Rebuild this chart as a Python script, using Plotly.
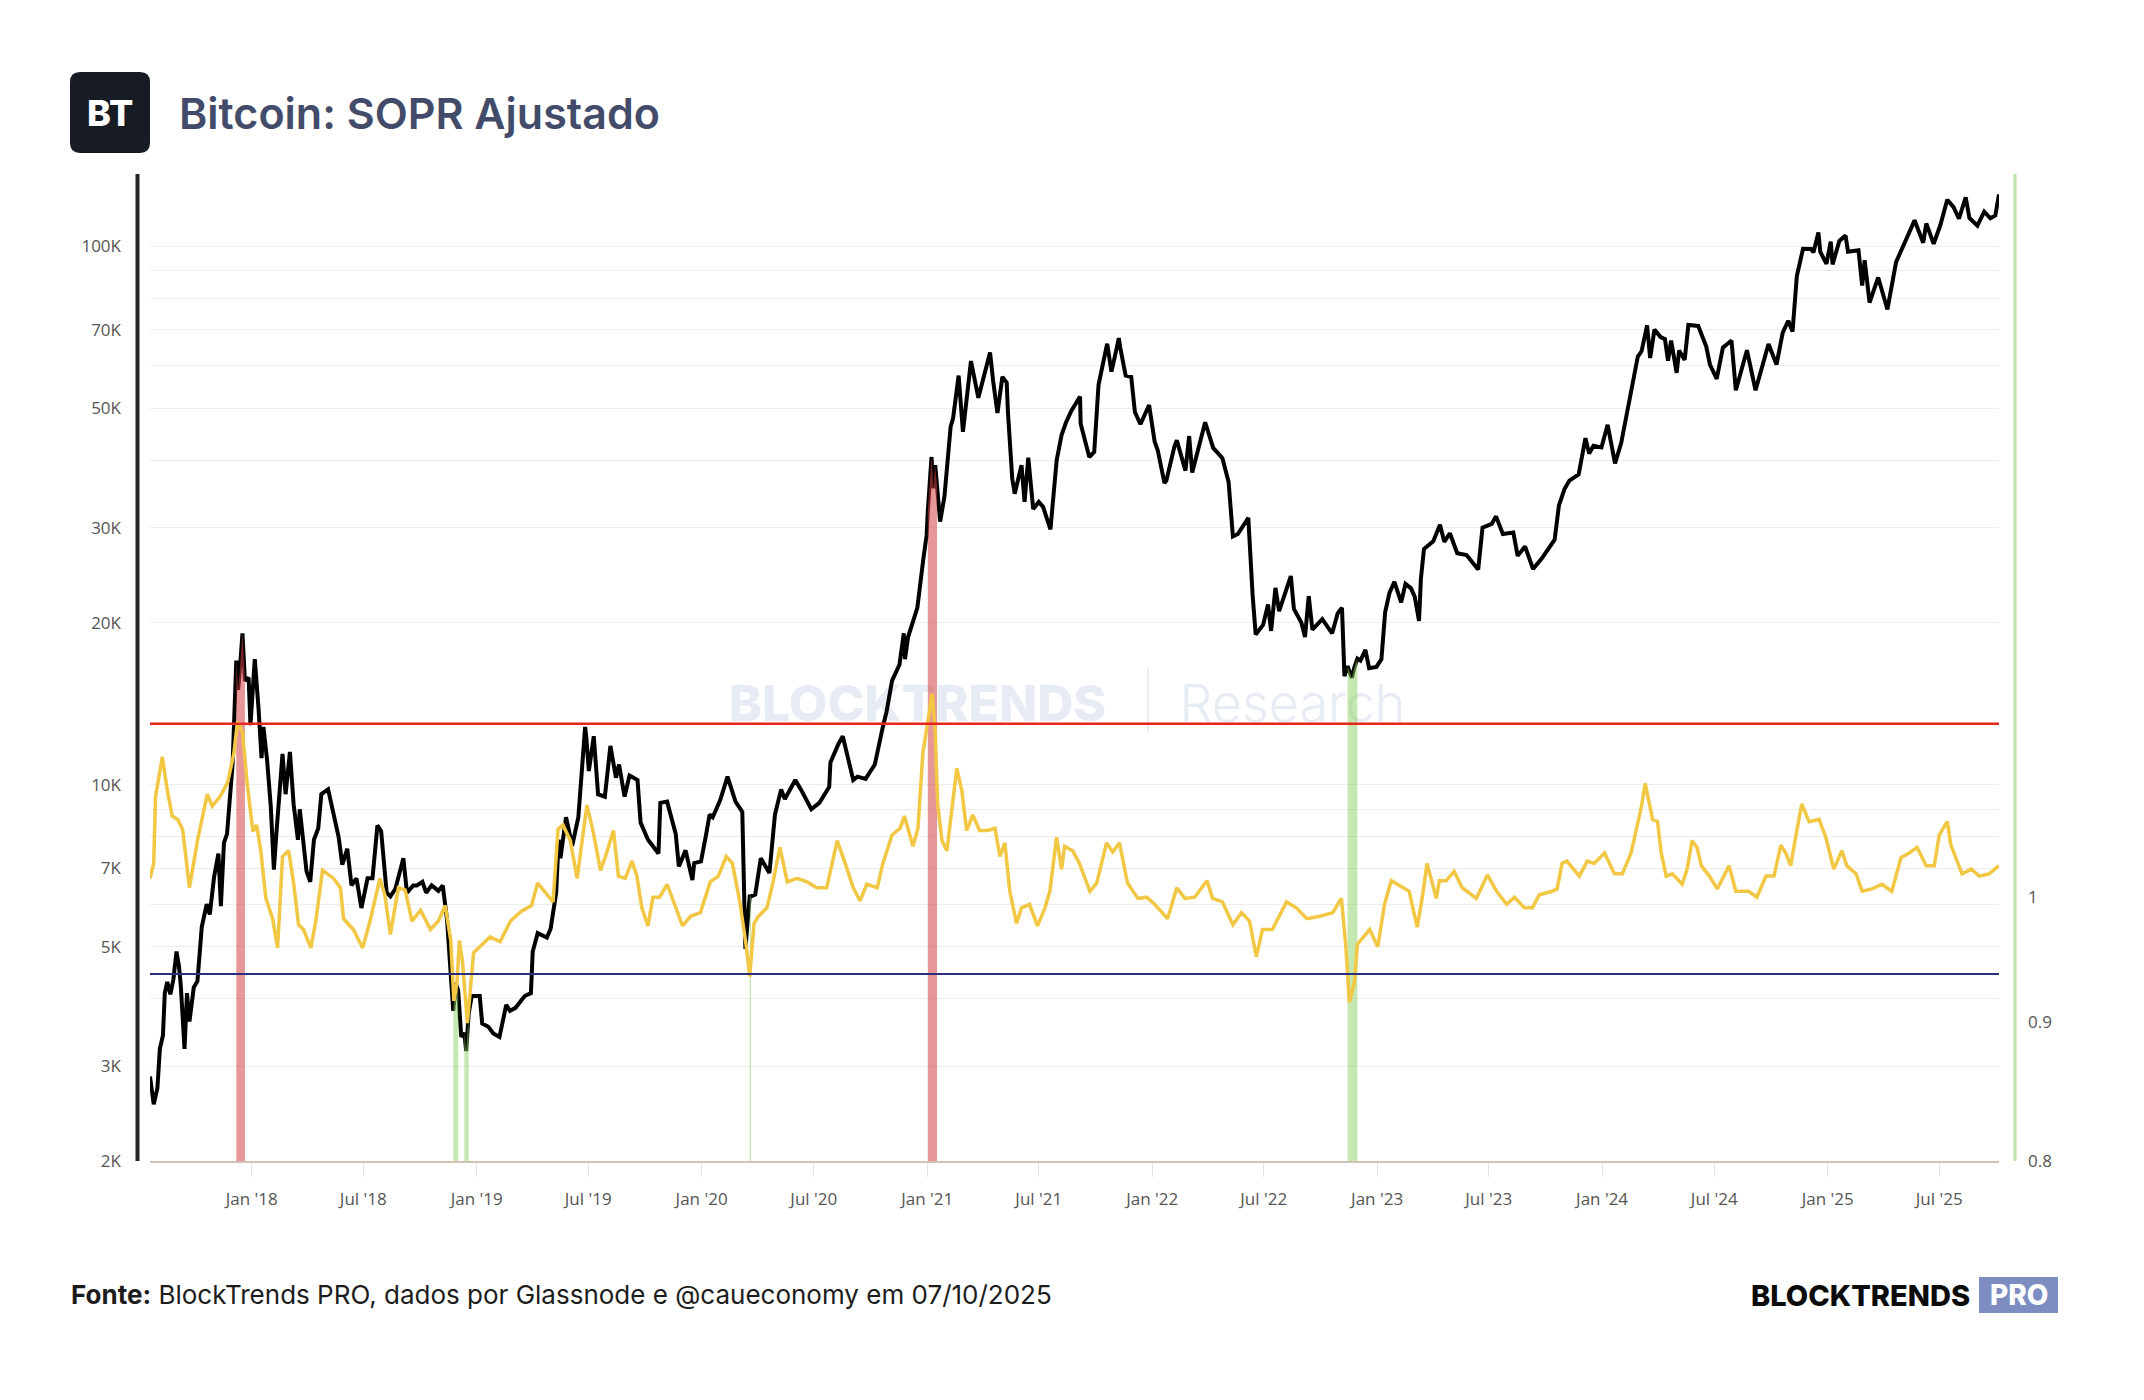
import math
import plotly.graph_objects as go

# ---------------- DATA ----------------
price_dates = [
"2017-07-20","2017-07-26","2017-08-01","2017-08-05","2017-08-10","2017-08-13","2017-08-17","2017-08-22","2017-08-27",
"2017-09-01","2017-09-05","2017-09-08","2017-09-14","2017-09-18","2017-09-22","2017-09-29","2017-10-05","2017-10-12",
"2017-10-20","2017-10-25","2017-11-01","2017-11-08","2017-11-12","2017-11-17","2017-11-22","2017-11-28","2017-12-01",
"2017-12-07","2017-12-10","2017-12-13","2017-12-17","2017-12-21","2017-12-27","2017-12-30",
"2018-01-06","2018-01-12","2018-01-17","2018-01-20","2018-01-26","2018-02-01","2018-02-06","2018-02-10","2018-02-20",
"2018-02-25","2018-03-04","2018-03-10","2018-03-17","2018-03-20","2018-03-31","2018-04-06","2018-04-12","2018-04-19",
"2018-04-24","2018-05-05","2018-05-14","2018-05-22","2018-05-28","2018-06-05","2018-06-12","2018-06-20","2018-06-28",
"2018-07-08","2018-07-16","2018-07-24","2018-07-30","2018-08-08","2018-08-14","2018-08-22","2018-08-31","2018-09-04",
"2018-09-10","2018-09-20","2018-09-26","2018-10-05","2018-10-11","2018-10-20","2018-10-31","2018-11-07","2018-11-14",
"2018-11-20","2018-11-24","2018-11-28","2018-12-02","2018-12-07","2018-12-12","2018-12-15","2018-12-19","2018-12-24",
"2019-01-06","2019-01-10","2019-01-20","2019-01-28","2019-02-07","2019-02-18","2019-02-24","2019-03-05","2019-03-20",
"2019-03-30","2019-04-02","2019-04-10","2019-04-25","2019-05-01","2019-05-10","2019-05-14","2019-05-17","2019-05-26",
"2019-06-05","2019-06-15","2019-06-26","2019-06-28","2019-07-02","2019-07-10","2019-07-17","2019-07-28","2019-08-06",
"2019-08-15","2019-08-20","2019-08-29","2019-09-06","2019-09-19","2019-09-24","2019-10-06","2019-10-23","2019-10-26",
"2019-11-06","2019-11-20","2019-11-25","2019-12-06","2019-12-17","2019-12-20","2019-12-31",
"2020-01-08","2020-01-14","2020-01-19","2020-01-31","2020-02-12","2020-02-25","2020-03-07","2020-03-12","2020-03-19",
"2020-03-21","2020-03-28","2020-04-06","2020-04-20","2020-04-29","2020-05-09","2020-05-15","2020-06-01","2020-06-10",
"2020-06-27","2020-07-10","2020-07-26","2020-07-28","2020-08-10","2020-08-17","2020-09-03","2020-09-10","2020-09-23",
"2020-10-08","2020-10-21","2020-10-27","2020-11-05","2020-11-17","2020-11-24","2020-11-26","2020-12-01","2020-12-16",
"2020-12-26","2020-12-31",
"2021-01-02","2021-01-08","2021-01-11","2021-01-14","2021-01-17","2021-01-22","2021-01-29","2021-02-08","2021-02-12",
"2021-02-21","2021-02-28","2021-03-13","2021-03-25","2021-04-03","2021-04-13","2021-04-18","2021-04-25","2021-05-03",
"2021-05-10","2021-05-12","2021-05-19","2021-05-23","2021-06-03","2021-06-08","2021-06-14","2021-06-22","2021-07-01",
"2021-07-08","2021-07-20","2021-07-30","2021-08-07","2021-08-14","2021-08-23","2021-09-06","2021-09-07","2021-09-21",
"2021-09-29","2021-10-06","2021-10-20","2021-10-27","2021-11-08","2021-11-10","2021-11-19","2021-11-28","2021-12-04",
"2021-12-13","2021-12-27",
"2022-01-05","2022-01-10","2022-01-21","2022-01-24","2022-02-06","2022-02-10","2022-02-24","2022-03-02","2022-03-07",
"2022-03-28","2022-04-10","2022-04-25","2022-05-05","2022-05-12","2022-05-20","2022-06-06","2022-06-13","2022-06-18",
"2022-06-30","2022-07-08","2022-07-13","2022-07-20","2022-07-26","2022-08-14","2022-08-19","2022-08-31","2022-09-06",
"2022-09-12","2022-09-18","2022-10-04","2022-10-20","2022-10-29","2022-11-05","2022-11-09","2022-11-14","2022-11-21",
"2022-11-25","2022-11-30","2022-12-05","2022-12-13","2022-12-19","2022-12-31",
"2023-01-08","2023-01-14","2023-01-21","2023-01-29","2023-02-09","2023-02-16","2023-02-25","2023-03-03","2023-03-10",
"2023-03-13","2023-03-18","2023-03-26","2023-04-02","2023-04-13","2023-04-20","2023-04-29","2023-05-11","2023-05-26",
"2023-06-14","2023-06-21","2023-07-06","2023-07-13","2023-07-24","2023-08-10","2023-08-17","2023-08-29","2023-09-11",
"2023-09-25","2023-10-16","2023-10-23","2023-11-01","2023-11-09","2023-11-24","2023-12-05","2023-12-11","2023-12-18",
"2023-12-31",
"2024-01-10","2024-01-22","2024-02-01","2024-02-12","2024-02-28","2024-03-05","2024-03-14","2024-03-19","2024-03-26",
"2024-04-05","2024-04-12","2024-04-17","2024-04-22","2024-05-01","2024-05-05","2024-05-14","2024-05-20","2024-06-05",
"2024-06-18","2024-06-24","2024-07-05","2024-07-15","2024-07-29","2024-08-05","2024-08-23","2024-09-06","2024-09-15",
"2024-09-27","2024-10-10","2024-10-20","2024-10-29","2024-11-05","2024-11-12","2024-11-22","2024-12-05","2024-12-09",
"2024-12-17","2024-12-20","2024-12-30",
"2025-01-06","2025-01-09","2025-01-20","2025-01-30","2025-02-03","2025-02-20","2025-02-26","2025-03-02","2025-03-10",
"2025-03-24","2025-04-08","2025-04-22","2025-05-08","2025-05-22","2025-06-05","2025-06-10","2025-06-22","2025-07-03",
"2025-07-14","2025-07-24","2025-08-02","2025-08-13","2025-08-19","2025-09-01","2025-09-12","2025-09-22","2025-09-30",
"2025-10-06",
]
price_values = [
2870,2550,2730,3230,3420,4100,4300,4080,4350,
4900,4600,4230,3230,4100,3630,4200,4320,5440,
6000,5740,6740,7450,5950,7800,8100,9900,10900,
17000,15000,16500,19100,15600,15800,12900,
17100,13900,11200,12800,11100,9100,6950,8100,11400,
9600,11500,9200,7900,9000,6900,6600,7900,8300,
9600,9800,8700,8000,7100,7600,6500,6700,5900,
6700,6700,8400,8200,6300,6200,6400,7000,7300,
6300,6500,6500,6600,6300,6500,6350,6500,5600,
4450,3800,4280,4150,3400,3460,3200,3750,4050,
4050,3600,3550,3450,3400,3900,3800,3850,4050,
4100,4900,5300,5200,5400,6300,7900,7300,8700,
7700,8700,12800,12200,10600,12300,9600,9500,11800,
10300,10900,9500,10400,10200,8500,7900,7450,9250,
9300,8100,7050,7550,6650,7150,7200,
8050,8800,8700,9350,10350,9300,8900,4950,6200,
6200,6250,7300,6850,8800,9800,9400,10200,9800,
9000,9250,9900,11000,11900,12300,10200,10350,10250,
10900,12800,13650,15600,16700,19100,17100,18800,21300,
26400,29000,
32200,40600,35500,39200,35800,30800,34300,46200,47900,
57500,45200,61200,52300,57000,63500,56200,49000,57200,
55800,49200,37000,34700,39200,33500,40500,32500,33500,
32800,29800,40000,44600,47000,49500,52600,46800,40600,
41500,55300,65900,58500,67500,65000,57500,57200,49200,
46700,50700,
43400,41800,36300,36700,42400,43600,38300,44400,38000,
47100,42200,40400,36500,28900,29200,31300,22500,19000,
19800,21600,19300,23200,21000,24400,21200,20000,18800,
22400,19400,20300,19100,20800,21300,15900,16600,15800,
16500,17150,17000,17800,16450,16550,
17100,20900,22700,23800,21800,23600,23150,22350,20150,
24100,27400,27800,28300,30400,28250,29300,26900,26700,
25100,30000,30500,31500,29200,29400,26600,27700,25150,
26300,28500,33000,35400,36700,37700,44000,41200,42600,
42300,
46600,39500,43100,49900,62400,63800,71300,62000,70000,
67800,67200,61300,66800,58200,64000,61500,71400,71100,
65100,60300,56700,64800,66800,54000,64100,54000,59200,
65800,60300,69000,72700,69400,88000,98900,98800,97400,
106100,97700,92700,
102000,92500,102300,104700,97700,98300,84500,94200,78600,
87500,76300,93400,103000,111700,101500,110200,101000,109600,
122000,118300,112500,123300,112800,109200,115900,112700,114000,
124800,
]

sopr_dates = [
"2017-07-20","2017-07-26","2017-07-29","2017-08-09","2017-08-17","2017-08-25","2017-09-03","2017-09-11","2017-09-22",
"2017-10-05","2017-10-21","2017-10-29","2017-11-11","2017-11-23","2017-12-03","2017-12-09","2017-12-17","2017-12-25",
"2018-01-03","2018-01-09","2018-01-16","2018-01-24","2018-02-04","2018-02-12","2018-02-20","2018-03-02","2018-03-10",
"2018-03-18","2018-03-26","2018-04-07","2018-04-15","2018-04-26","2018-05-06","2018-05-14","2018-05-25","2018-05-30",
"2018-06-15","2018-06-30","2018-07-12","2018-07-28","2018-08-05","2018-08-14","2018-08-27","2018-09-07","2018-09-18",
"2018-10-02","2018-10-18","2018-10-31","2018-11-11","2018-11-16","2018-11-20","2018-11-25","2018-11-30","2018-12-04",
"2018-12-09","2018-12-17","2018-12-23","2018-12-27",
"2019-01-06","2019-01-23","2019-02-08","2019-02-25","2019-03-14","2019-03-31","2019-04-10","2019-04-25","2019-05-05",
"2019-05-13","2019-05-21","2019-06-02","2019-06-13","2019-06-29","2019-07-09","2019-07-21","2019-07-29","2019-08-11",
"2019-08-19","2019-08-30","2019-09-10","2019-09-18","2019-09-26","2019-10-06","2019-10-14","2019-10-25","2019-11-06",
"2019-11-16","2019-12-01","2019-12-14","2019-12-30",
"2020-01-15","2020-01-28","2020-02-10","2020-02-20","2020-03-03","2020-03-13","2020-03-19","2020-03-26","2020-04-02",
"2020-04-16","2020-04-26","2020-05-07","2020-05-19","2020-06-04","2020-06-20","2020-07-06","2020-07-22","2020-08-08",
"2020-08-21","2020-09-03","2020-09-14","2020-09-25","2020-10-12","2020-10-21","2020-11-05","2020-11-18","2020-11-25",
"2020-12-01","2020-12-09","2020-12-17","2020-12-25",
"2021-01-02","2021-01-09","2021-01-14","2021-01-18","2021-01-25","2021-02-02","2021-02-10","2021-02-18","2021-02-26",
"2021-03-06","2021-03-16","2021-03-27","2021-04-09","2021-04-21","2021-04-29","2021-05-07","2021-05-15","2021-05-26",
"2021-06-03","2021-06-16","2021-06-29","2021-07-11","2021-07-19","2021-07-30","2021-08-07","2021-08-12","2021-08-25",
"2021-09-05","2021-09-22","2021-10-03","2021-10-19","2021-10-29","2021-11-09","2021-11-22","2021-12-09","2021-12-23",
"2022-01-05","2022-01-26","2022-02-10","2022-02-23","2022-03-11","2022-03-31","2022-04-09","2022-04-25","2022-05-12",
"2022-05-26","2022-06-08","2022-06-19","2022-06-29","2022-07-15","2022-08-07","2022-08-23","2022-09-09","2022-09-30",
"2022-10-21","2022-11-04","2022-11-11","2022-11-17","2022-11-25","2022-11-30","2022-12-20",
"2023-01-02","2023-01-13","2023-01-24","2023-02-09","2023-02-22","2023-03-07","2023-03-15","2023-03-23","2023-04-07",
"2023-04-12","2023-04-23","2023-05-06","2023-05-19","2023-06-11","2023-06-29","2023-07-14","2023-07-30","2023-08-12",
"2023-08-28","2023-09-10","2023-09-21","2023-10-12","2023-10-20","2023-10-28","2023-11-05","2023-11-25","2023-12-08",
"2023-12-19",
"2024-01-05","2024-01-21","2024-02-03","2024-02-17","2024-02-25","2024-03-05","2024-03-11","2024-03-18","2024-03-23",
"2024-03-31","2024-04-06","2024-04-14","2024-04-24","2024-05-10","2024-05-18","2024-05-26","2024-06-03","2024-06-10",
"2024-06-23","2024-07-06","2024-07-25","2024-08-05","2024-08-26","2024-09-08","2024-09-23","2024-10-06","2024-10-17",
"2024-10-25","2024-11-02","2024-11-10","2024-11-20","2024-12-02","2024-12-18","2024-12-29",
"2025-01-11","2025-01-24","2025-02-01","2025-02-16","2025-02-26","2025-03-14","2025-03-30","2025-04-15","2025-04-30",
"2025-05-13","2025-05-26","2025-06-10","2025-06-23","2025-07-01","2025-07-14","2025-07-20","2025-08-07","2025-08-22",
"2025-09-04","2025-09-20","2025-10-06",
]
sopr_values = [
1.016,1.029,1.089,1.126,1.095,1.071,1.068,1.059,1.008,
1.049,1.091,1.080,1.089,1.102,1.129,1.160,1.150,1.099,
1.057,1.063,1.039,0.999,0.982,0.958,1.035,1.040,1.012,
0.977,0.973,0.958,0.980,1.023,1.019,1.016,1.008,0.982,
0.973,0.958,0.980,1.016,1.002,0.969,1.008,1.006,0.980,
0.989,0.973,0.980,0.993,0.977,0.964,0.916,0.930,0.964,
0.947,0.899,0.930,0.954,
0.959,0.967,0.963,0.980,0.988,0.993,1.012,1.002,0.996,
1.059,1.063,1.049,1.016,1.081,1.057,1.023,1.035,1.058,
1.018,1.016,1.031,1.018,0.991,0.976,1.000,1.000,1.011,
0.997,0.976,0.984,0.987,
1.013,1.018,1.035,1.029,0.996,0.961,0.935,0.978,0.984,
0.991,1.013,1.043,1.013,1.016,1.013,1.008,1.008,1.049,
1.029,1.008,0.997,1.011,1.008,1.029,1.054,1.060,1.071,
1.058,1.044,1.060,1.130,
1.160,1.188,1.149,1.082,1.049,1.040,1.077,1.115,1.095,
1.058,1.072,1.058,1.058,1.060,1.035,1.047,1.005,0.978,
0.991,0.994,0.976,0.991,1.005,1.052,1.024,1.044,1.040,
1.029,1.005,1.012,1.047,1.039,1.047,1.012,0.999,1.000,
0.994,0.982,1.008,0.999,1.000,1.014,0.999,0.996,0.977,
0.987,0.980,0.951,0.973,0.973,0.996,0.991,0.982,0.984,
0.987,0.999,0.961,0.915,0.930,0.961,0.973,
0.959,0.994,1.014,1.009,1.005,0.975,0.999,1.029,0.999,
1.014,1.014,1.022,1.008,0.999,1.019,1.005,0.994,1.000,
0.991,0.991,1.002,1.005,1.007,1.029,1.031,1.018,1.031,
1.029,
1.038,1.020,1.020,1.038,1.057,1.080,1.101,1.080,1.068,
1.066,1.038,1.018,1.020,1.011,1.024,1.049,1.043,1.027,
1.018,1.007,1.027,1.005,1.005,1.000,1.018,1.018,1.045,
1.038,1.027,1.052,1.082,1.066,1.068,1.052,
1.024,1.040,1.027,1.020,1.005,1.007,1.011,1.005,1.034,
1.038,1.043,1.027,1.027,1.054,1.066,1.045,1.020,1.024,
1.018,1.020,1.027,
]

sopr_upper = 1.158   # red threshold
sopr_lower = 0.937   # blue threshold

red_periods = [("2017-12-07", "2017-12-21"), ("2021-01-02", "2021-01-17")]
green_periods = [("2018-11-24", "2018-12-02"), ("2018-12-12", "2018-12-19"),
                 ("2020-03-19", "2020-03-21"), ("2022-11-14", "2022-11-30")]

price_axis_min = 2000
price_axis_max = 135600
price_tick_vals = [2000, 3000, 4000, 5000, 6000, 7000, 8000, 9000, 10000,
                   20000, 30000, 40000, 50000, 60000, 70000, 80000, 90000, 100000]
price_tick_text = ["2K", "3K", "", "5K", "", "7K", "", "", "10K",
                   "20K", "30K", "", "50K", "", "70K", "", "", "100K"]
sopr_axis_min = 0.8
sopr_axis_max = 1.842
sopr_tick_vals = [0.8, 0.9, 1.0]
sopr_tick_text = ["0.8", "0.9", "1"]
date_tick_vals = ["2018-01-01", "2018-07-01", "2019-01-01", "2019-07-01", "2020-01-01", "2020-07-01",
                  "2021-01-01", "2021-07-01", "2022-01-01", "2022-07-01", "2023-01-01", "2023-07-01",
                  "2024-01-01", "2024-07-01", "2025-01-01", "2025-07-01"]

# ---------------- LAYOUT HELPERS ----------------
W_FIG, H_FIG = 2144, 1400
L, R, T, B = 150, 1999, 175, 1161


def px(x):
    return (x - L) / (R - L)


def py(y):
    return (B - y) / (B - T)


fig = go.Figure()

# price line
fig.add_trace(go.Scatter(x=price_dates, y=price_values, mode="lines",
                         line=dict(color="#000000", width=4), yaxis="y",
                         hoverinfo="skip", showlegend=False))


def period_fill(start, end, color):
    xs, ys = [], []
    for d, v in zip(price_dates, price_values):
        if start <= d <= end:
            xs.append(d)
            ys.append(v)
    xs = xs + [end, start, start]
    ys = ys + [price_axis_min, price_axis_min, ys[0]]
    return go.Scatter(x=xs, y=ys, mode="lines", fill="toself", fillcolor=color,
                      line=dict(width=0, color=color), yaxis="y",
                      hoverinfo="skip", showlegend=False)


for s, e in red_periods:
    fig.add_trace(period_fill(s, e, "rgba(212,66,66,0.55)"))
for s, e in green_periods:
    fig.add_trace(period_fill(s, e, "rgba(140,208,98,0.5)"))

# SOPR line
fig.add_trace(go.Scatter(x=sopr_dates, y=sopr_values, mode="lines",
                         line=dict(color="#f2c744", width=3.5), yaxis="y2",
                         hoverinfo="skip", showlegend=False))
# thresholds
fig.add_trace(go.Scatter(x=[sopr_dates[0], sopr_dates[-1]], y=[sopr_upper, sopr_upper], mode="lines",
                         line=dict(color="#e8261c", width=2.5), yaxis="y2",
                         hoverinfo="skip", showlegend=False))
fig.add_trace(go.Scatter(x=[sopr_dates[0], sopr_dates[-1]], y=[sopr_lower, sopr_lower], mode="lines",
                         line=dict(color="#2a2d80", width=2), yaxis="y2",
                         hoverinfo="skip", showlegend=False))

shapes = []
# left dark axis bar & right green bar
shapes.append(dict(type="line", xref="paper", yref="paper", x0=px(137.5), x1=px(137.5),
                   y0=py(1161), y1=py(174), line=dict(color="#262626", width=4)))
shapes.append(dict(type="line", xref="paper", yref="paper", x0=px(2015), x1=px(2015),
                   y0=py(1161), y1=py(174), line=dict(color="#bfe3a8", width=3)))

# BT logo rounded box
bx0, bx1, by0, by1, rr = 70, 150, 72, 153, 10


def P(x, y):
    return f"{px(x):.5f},{py(y):.5f}"


path = (f"M {P(bx0+rr, by0)} L {P(bx1-rr, by0)} Q {P(bx1, by0)} {P(bx1, by0+rr)} "
        f"L {P(bx1, by1-rr)} Q {P(bx1, by1)} {P(bx1-rr, by1)} L {P(bx0+rr, by1)} "
        f"Q {P(bx0, by1)} {P(bx0, by1-rr)} L {P(bx0, by0+rr)} Q {P(bx0, by0)} {P(bx0+rr, by0)} Z")
shapes.append(dict(type="path", xref="paper", yref="paper", path=path,
                   fillcolor="#171b24", line=dict(width=0)))

# PRO box
shapes.append(dict(type="rect", xref="paper", yref="paper", x0=px(1979), x1=px(2058),
                   y0=py(1313), y1=py(1277), fillcolor="#7d8dc1", line=dict(width=0)))

# watermark (between grid and traces)
wm_color = "#e7ecf4"
shapes.append(dict(type="rect", xref="paper", yref="paper", x0=px(700), x1=px(1135),
                   y0=py(730), y1=py(672), line=dict(width=0), fillcolor="rgba(0,0,0,0)",
                   layer="between",
                   label=dict(text="BLOCKTRENDS", textposition="middle center",
                              font=dict(family="Inter", size=50, color=wm_color, weight=800))))
shapes.append(dict(type="rect", xref="paper", yref="paper", x0=px(1160), x1=px(1425),
                   y0=py(730), y1=py(672), line=dict(width=0), fillcolor="rgba(0,0,0,0)",
                   layer="between",
                   label=dict(text="Research", textposition="middle center",
                              font=dict(family="Inter", size=52, color=wm_color, weight=300))))
shapes.append(dict(type="line", xref="paper", yref="paper", x0=px(1148), x1=px(1148),
                   y0=py(732), y1=py(668), line=dict(color=wm_color, width=2), layer="between"))

annotations = [
    dict(text="BT", x=px(110), y=py(113), xref="paper", yref="paper", showarrow=False,
         xanchor="center", yanchor="middle",
         font=dict(family="Inter", size=36, color="#ffffff", weight=800)),
    dict(text="Bitcoin: SOPR Ajustado", x=px(177), y=py(113), xref="paper", yref="paper",
         showarrow=False, xanchor="left", yanchor="middle",
         font=dict(family="Inter", size=43, color="#434b6a", weight=600)),
    dict(text="<b>Fonte:</b> BlockTrends PRO, dados por Glassnode e @caueconomy em 07/10/2025",
         x=px(69), y=py(1294), xref="paper", yref="paper", showarrow=False,
         xanchor="left", yanchor="middle",
         font=dict(family="Inter", size=26, color="#1c1c1c")),
    dict(text="BLOCKTRENDS", x=px(1972), y=py(1295), xref="paper", yref="paper", showarrow=False,
         xanchor="right", yanchor="middle",
         font=dict(family="Inter", size=29, color="#0b0b0b", weight=800)),
    dict(text="PRO", x=px(2018.5), y=py(1295), xref="paper", yref="paper", showarrow=False,
         xanchor="center", yanchor="middle",
         font=dict(family="Inter", size=28, color="#ffffff", weight=800)),
]

fig.update_layout(
    width=W_FIG, height=H_FIG, autosize=False,
    margin=dict(l=L, r=W_FIG - R, t=T, b=H_FIG - B, pad=0),
    paper_bgcolor="#ffffff", plot_bgcolor="#ffffff",
    showlegend=False,
    xaxis=dict(type="date", range=[price_dates[0], price_dates[-1]],
               tickmode="array", tickvals=date_tick_vals, tickformat="%b '%y",
               showgrid=False, zeroline=False,
               showline=True, linecolor="#d3c3b5", linewidth=2,
               ticks="outside", ticklen=14, tickwidth=1, tickcolor="#e4e4e4",
               ticklabelstandoff=8,
               tickfont=dict(family="Open Sans", size=17, color="#555555")),
    yaxis=dict(type="log", range=[math.log10(price_axis_min), math.log10(price_axis_max)],
               tickmode="array", tickvals=price_tick_vals, ticktext=price_tick_text,
               showgrid=True, gridcolor="#ededed", gridwidth=1,
               zeroline=False, showline=False, ticks="",
               ticklabelstandoff=28,
               tickfont=dict(family="Open Sans", size=17, color="#555555")),
    yaxis2=dict(overlaying="y", side="right", type="log",
                range=[math.log10(sopr_axis_min), math.log10(sopr_axis_max)],
                tickmode="array", tickvals=sopr_tick_vals, ticktext=sopr_tick_text,
                showgrid=False, zeroline=False, showline=False, ticks="",
                ticklabelstandoff=28,
                tickfont=dict(family="Open Sans", size=17, color="#555555")),
    shapes=shapes,
    annotations=annotations,
)

fig.write_html("out.html")
